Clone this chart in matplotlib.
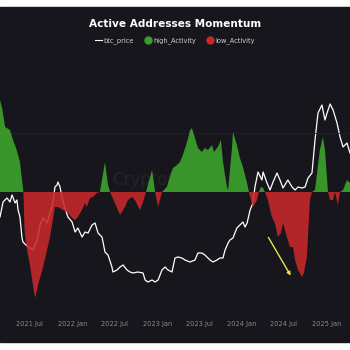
import matplotlib.pyplot as plt
from matplotlib.lines import Line2D
from matplotlib.patches import Rectangle
import numpy as np
import pandas as pd

# btc price (USD)
price_dates = ['2021-02-22', '2021-03-07', '2021-03-24', '2021-04-06', '2021-04-15', '2021-04-28',
               '2021-05-06', '2021-05-11', '2021-05-19', '2021-05-28', '2021-06-01', '2021-06-14',
               '2021-07-01', '2021-07-14', '2021-08-01', '2021-08-14', '2021-08-27', '2021-09-13',
               '2021-09-26', '2021-10-09', '2021-10-17', '2021-10-26', '2021-10-30', '2021-11-08',
               '2021-11-16', '2021-11-29', '2021-12-12', '2021-12-30', '2022-01-12', '2022-01-24',
               '2022-02-11', '2022-02-24', '2022-03-09', '2022-03-26', '2022-04-08', '2022-04-21',
               '2022-05-08', '2022-05-21', '2022-06-03', '2022-06-20', '2022-06-24', '2022-07-12',
               '2022-07-25', '2022-08-07', '2022-08-24', '2022-09-06', '2022-09-19', '2022-10-10',
               '2022-11-01', '2022-11-10', '2022-11-22', '2022-12-10', '2022-12-23', '2023-01-05',
               '2023-01-22', '2023-02-04', '2023-02-17', '2023-03-06', '2023-03-19', '2023-04-01',
               '2023-04-18', '2023-05-01', '2023-05-23', '2023-06-13', '2023-06-26', '2023-07-13',
               '2023-07-26', '2023-08-17', '2023-08-30', '2023-09-16', '2023-09-29', '2023-10-12',
               '2023-10-21', '2023-11-03', '2023-11-11', '2023-11-24', '2023-12-11', '2023-12-24',
               '2024-01-06', '2024-01-15', '2024-01-24', '2024-02-06', '2024-02-18', '2024-02-27',
               '2024-03-11', '2024-03-28', '2024-04-02', '2024-04-19', '2024-05-02', '2024-05-15',
               '2024-06-01', '2024-06-14', '2024-06-27', '2024-07-18', '2024-08-05', '2024-08-18',
               '2024-08-31', '2024-09-17', '2024-09-30', '2024-10-13', '2024-10-30', '2024-11-12',
               '2024-11-25', '2024-12-12', '2024-12-25', '2025-01-03', '2025-01-16', '2025-01-29',
               '2025-02-15', '2025-02-28', '2025-03-13', '2025-03-30', '2025-04-12']
btc_price = [48500, 56000, 58000, 56000, 59500, 55500,
             57000, 52000, 48500, 38000, 36000, 34500,
             33000, 32000, 37000, 44500, 48000, 45500,
             50500, 56000, 63500, 64500, 66000, 63500,
             58500, 53000, 48500, 46000, 41000, 43000,
             38500, 41000, 40500, 44500, 45500, 40500,
             38500, 31000, 29500, 23500, 21000, 22000,
             23500, 24500, 22000, 21000, 20500, 21000,
             20500, 17000, 16000, 17000, 16000, 17000,
             22000, 23500, 22000, 21000, 28000, 28500,
             28000, 27000, 26000, 27000, 30500, 30500,
             29500, 27000, 26000, 27000, 28000, 28000,
             32000, 35500, 37000, 38000, 43000, 44500,
             46000, 43500, 45500, 52000, 55500, 63500,
             71000, 67000, 71000, 65500, 62000, 66000,
             70500, 67000, 63000, 67000, 63500, 62000,
             63500, 63000, 63500, 68000, 70500, 87000,
             100500, 104500, 97000, 100500, 105000, 102000,
             95500, 88500, 83500, 85500, 80500]

# active addresses momentum
mom_dates = ['2021-02-22', '2021-03-03', '2021-03-16', '2021-04-06', '2021-04-19', '2021-05-02',
             '2021-05-11', '2021-05-19', '2021-05-28', '2021-06-03', '2021-06-08', '2021-06-14',
             '2021-07-01', '2021-07-23', '2021-08-05', '2021-08-27', '2021-09-26', '2021-10-17',
             '2021-10-30', '2021-11-21', '2021-12-12', '2021-12-30', '2022-01-12', '2022-01-24',
             '2022-02-11', '2022-02-24', '2022-03-04', '2022-03-17', '2022-03-30', '2022-04-16',
             '2022-04-29', '2022-05-08', '2022-05-21', '2022-06-03', '2022-06-12', '2022-07-03',
             '2022-07-25', '2022-08-15', '2022-08-28', '2022-09-14', '2022-09-27', '2022-10-19',
             '2022-11-01', '2022-11-14', '2022-12-10', '2022-12-23', '2023-01-05', '2023-01-22',
             '2023-02-12', '2023-02-25', '2023-03-10', '2023-03-28', '2023-04-10', '2023-04-22',
             '2023-05-10', '2023-05-23', '2023-05-31', '2023-06-13', '2023-06-26', '2023-07-13',
             '2023-07-26', '2023-08-08', '2023-08-26', '2023-09-03', '2023-09-20', '2023-10-03',
             '2023-10-12', '2023-10-29', '2023-11-03', '2023-11-20', '2023-11-24', '2023-12-11',
             '2023-12-24', '2024-01-06', '2024-01-24', '2024-02-01', '2024-02-18', '2024-03-07',
             '2024-03-15', '2024-03-24', '2024-04-02', '2024-04-10', '2024-04-23', '2024-05-10',
             '2024-05-23', '2024-06-05', '2024-06-18', '2024-06-27', '2024-07-14', '2024-07-27',
             '2024-08-09', '2024-08-18', '2024-08-31', '2024-09-17', '2024-09-25', '2024-10-08',
             '2024-10-21', '2024-10-30', '2024-11-12', '2024-12-03', '2024-12-16', '2024-12-25',
             '2025-01-07', '2025-01-16', '2025-01-29', '2025-02-06', '2025-02-19', '2025-02-28',
             '2025-03-13', '2025-03-30', '2025-04-12']
momentum = [46, 42, 32.5, 31, 26, 22,
            18.5, 15, 6, 0, -19, -25.5,
            -36.5, -53, -46.5, -37.5, -22.5, -7.5,
            -7.5, -9, -10.5, -13, -14, -12.5,
            -9, -5.5, -7.5, -3, -2.5, -0.5,
            0, 6, 15, 3.5, 0, -5.5,
            -11.5, -7.5, -4, -2.5, -4, -9,
            -5, 0, 11, 0, -7.5, 0,
            2.5, 7.5, 12, 13.5, 15, 18.5,
            25, 31, 32, 27, 22, 20,
            22, 21, 23.5, 20, 22.5, 26,
            15, 2.5, 1, 22, 30, 23.5,
            17, 12.5, 4.5, 0, -7.5, -4,
            0, 2.5, 2, 0, -4, -12.5,
            -15.5, -22.5, -20.5, -15.5, -22.5, -27.5,
            -27.5, -34, -39, -42.5, -40.5, -32.5,
            -4, 0, 1, 21, 27.5, 21,
            0, -4, -4, 0, -6.5, 0,
            1, 6, 4.5]

tick_dates = ['2021-07-01', '2022-01-01', '2022-07-01', '2023-01-01',
              '2023-07-01', '2024-01-01', '2024-07-01', '2025-01-01']
tick_labels = ['2021 Jul', '2022 Jan', '2022 Jul', '2023 Jan',
               '2023 Jul', '2024 Jan', '2024 Jul', '2025 Jan']

bg = '#17161c'
green = '#3a9d2b'
red = '#c9282b'

pdt = pd.to_datetime(price_dates)
md = pd.to_datetime(mom_dates)
m = np.array(momentum)

fig = plt.figure(figsize=(3.5, 3.5), dpi=100, facecolor='white')
fig.patches.append(Rectangle((0, 8/350), 1, 335/350, transform=fig.transFigure,
                             color=bg, zorder=-5))

ax = fig.add_axes([0, 36/350, 1, 254/350])
ax.set_facecolor('none')
ax.plot(pdt, btc_price, color='white', lw=0.9, zorder=2)
ax.set_ylim(0, 127000)
ax.set_yticks([])

ax2 = ax.twinx()
ax2.set_facecolor('none')
ax2.axhline(29.5, color='#222128', lw=0.6, zorder=0)
# faint watermark
ax2.text(pd.Timestamp('2023-02-05'), 6, 'CryptoQuant', color='#24232a', fontsize=12,
         ha='center', va='center', zorder=0)
ax2.fill_between(md, m, 0, where=m >= 0, interpolate=True, color=green, lw=0, alpha=0.95)
ax2.fill_between(md, m, 0, where=m <= 0, interpolate=True, color=red, lw=0, alpha=0.88)
ax2.set_ylim(-61, 66)
ax2.set_yticks([])
ax2.annotate('', xy=(pd.Timestamp('2024-08-05'), -43), xytext=(pd.Timestamp('2024-04-19'), -21.5),
             arrowprops=dict(arrowstyle='-|>', color='#e3e34a', lw=1.0, mutation_scale=5))

ax.set_xlim(pd.Timestamp('2021-02-22'), pd.Timestamp('2025-04-12'))
ax.set_xticks(pd.to_datetime(tick_dates))
ax.set_xticklabels(tick_labels, color='#8a8a8a', fontsize=4.8)
ax.tick_params(axis='x', length=0, pad=5)
for a in (ax, ax2):
    for s in ['top', 'left', 'right', 'bottom']:
        a.spines[s].set_visible(False)
ax.axhline(0, color='#2e2d34', lw=0.6)

fig.text(0.5, 1 - 24/350, 'Active Addresses Momentum', color='white', fontsize=7.6,
         fontweight='bold', ha='center', va='center')
handles = [Line2D([], [], color='white', lw=0.8),
           Line2D([], [], marker='o', ls='', color=green, markersize=5),
           Line2D([], [], marker='o', ls='', color=red, markersize=5)]
leg = fig.legend(handles, ['btc_price', 'high_Activity', 'low_Activity'], loc='center',
                 bbox_to_anchor=(0.5, 1 - 41/350), ncol=3, frameon=False, fontsize=4.8,
                 handlelength=1.0, handletextpad=0.3, columnspacing=1.6, labelcolor='#cfcfcf')

fig.savefig('out.png', dpi=100, facecolor='white')
